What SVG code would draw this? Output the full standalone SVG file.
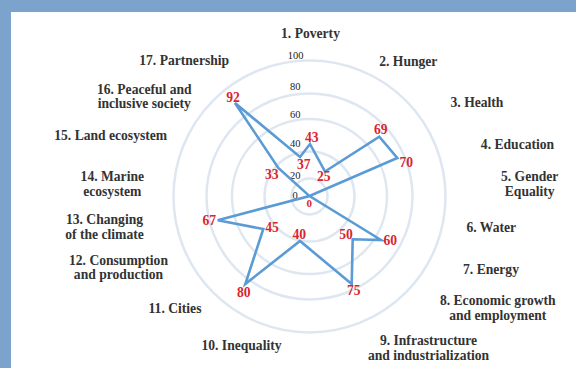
<svg xmlns="http://www.w3.org/2000/svg" width="576" height="368" viewBox="0 0 576 368">
<style>
.lbl{font-family:"Liberation Serif","Times New Roman",serif;font-weight:bold;font-size:13.6px;fill:#333;text-anchor:middle}
.val{font-family:"Liberation Serif","Times New Roman",serif;font-weight:bold;font-size:13.6px;fill:#d7262f;text-anchor:middle}
.tick{font-family:"Liberation Serif","Times New Roman",serif;font-size:10.5px;fill:#222;text-anchor:middle}
.ring{fill:none;stroke:#dee7f1;stroke-width:2.5}
.series{fill:none;stroke:#5b9bd5;stroke-width:2.6;stroke-linejoin:miter}
</style>
<rect x="0" y="0" width="576" height="368" fill="#7ba3cb"/>
<rect x="11" y="12" width="565" height="356" fill="#ffffff"/>
<g id="grid">
<circle class="ring" cx="309.5" cy="196.5" r="18"/>
<circle class="ring" cx="309.5" cy="196.5" r="45"/>
<circle class="ring" cx="309.5" cy="196.5" r="77.5"/>
<circle class="ring" cx="309.5" cy="196.5" r="103"/>
<circle class="ring" cx="309.5" cy="196.5" r="136"/>
</g>
<g id="ticks">
<text class="tick" x="295.7" y="58.7">100</text>
<text class="tick" x="295.3" y="90.4">80</text>
<text class="tick" x="295.3" y="117.7">60</text>
<text class="tick" x="295.3" y="147">40</text>
<text class="tick" x="295.3" y="178.7">20</text>
<text class="tick" x="295" y="198.5">0</text>
</g>
<g id="connectors">
<polygon class="series" points="310,144 325,171.5 379.3,136.7 397.3,158 309.5,196 381,240 352.7,239.3 351.7,284 300,241 245.3,284 263.3,229 217.7,220.3 309.5,196 278.3,168 235,103 300,157"/>
</g>
<g id="values">
<text class="val" x="311.7" y="142">43</text>
<text class="val" x="323.7" y="180.7">25</text>
<text class="val" x="380.7" y="134">69</text>
<text class="val" x="406.3" y="167.4">70</text>
<text class="val" x="309.2" y="206.8" style="font-size:11px">0</text>
<text class="val" x="390.3" y="245.4">60</text>
<text class="val" x="346" y="239">50</text>
<text class="val" x="353.7" y="294.7">75</text>
<text class="val" x="299.2" y="239">40</text>
<text class="val" x="243.7" y="297">80</text>
<text class="val" x="272" y="232">45</text>
<text class="val" x="209.2" y="224.7">67</text>
<text class="val" x="271.8" y="179">33</text>
<text class="val" x="233" y="102.4">92</text>
<text class="val" x="303.7" y="168.7">37</text>
</g>
<g id="n1"><text class="lbl" x="310.5" y="37.8">1. Poverty</text></g>
<g id="n2"><text class="lbl" x="408.3" y="66.2">2. Hunger</text></g>
<g id="n3"><text class="lbl" x="477" y="107.2">3. Health</text></g>
<g id="n4"><text class="lbl" x="517.5" y="148.8">4. Education</text></g>
<g id="n5"><text class="lbl" x="529.7" y="181.2">5. Gender</text><text class="lbl" x="529.7" y="196.2">Equality</text></g>
<g id="n6"><text class="lbl" x="491.3" y="231.8">6. Water</text></g>
<g id="n7"><text class="lbl" x="491" y="273.5">7. Energy</text></g>
<g id="n8"><text class="lbl" x="497.8" y="304.5">8. Economic growth</text><text class="lbl" x="497.8" y="319.5">and employment</text></g>
<g id="n9"><text class="lbl" x="428.5" y="345.2">9. Infrastructure</text><text class="lbl" x="428.5" y="360.2">and industrialization</text></g>
<g id="n10"><text class="lbl" x="241.5" y="349.5">10. Inequality</text></g>
<g id="n11"><text class="lbl" x="175" y="313.2">11. Cities</text></g>
<g id="n12"><text class="lbl" x="118.5" y="264.5">12. Consumption</text><text class="lbl" x="118.5" y="279.2">and production</text></g>
<g id="n13"><text class="lbl" x="104.5" y="223.5">13. Changing</text><text class="lbl" x="104.5" y="238.5">of the climate</text></g>
<g id="n14"><text class="lbl" x="112.3" y="181.2">14. Marine</text><text class="lbl" x="112.3" y="196.2">ecosystem</text></g>
<g id="n15"><text class="lbl" x="110.7" y="139.5">15. Land ecosystem</text></g>
<g id="n16"><text class="lbl" x="144.3" y="93.5">16. Peaceful and</text><text class="lbl" x="144.3" y="107.8">inclusive society</text></g>
<g id="n17"><text class="lbl" x="184.2" y="65.2">17. Partnership</text></g>
</svg>
